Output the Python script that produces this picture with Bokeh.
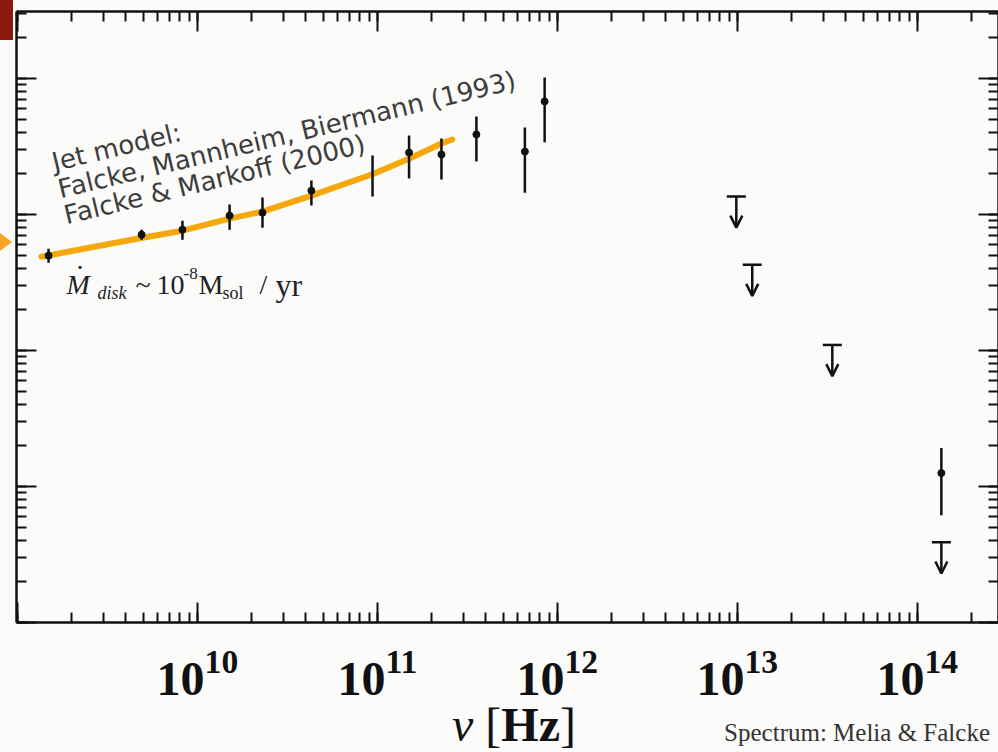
from bokeh.plotting import figure
from bokeh.layouts import column
from bokeh.models import (ColumnDataSource, LogAxis, LogTicker, Label, Arrow, OpenHead, Range1d, Div)
from bokeh.embed import file_html
from bokeh.resources import INLINE

# ---------------- data ----------------
# detections: frequency [Hz], flux, error-bar top, error-bar bottom
nu_det = [1.49e9, 4.9e9, 8.26e9, 1.51e10, 2.30e10, 4.30e10, 9.4e10, 1.5e11, 2.27e11,
          3.55e11, 6.6e11, 8.5e11, 1.36e14]
f_det = [0.499, 0.712, 0.775, 0.983, 1.034, 1.50, 1.97, 2.86, 2.77, 3.89, 2.91, 6.80, 0.01256]
f_hi = [0.561, 0.775, 0.903, 1.185, 1.334, 1.78, 2.72, 3.82, 3.63, 5.27, 4.38, 10.2, 0.0192]
f_lo = [0.443, 0.654, 0.654, 0.775, 0.802, 1.165, 1.36, 1.84, 1.81, 2.46, 1.45, 3.40, 0.00615]
show_dot = [1, 1, 1, 1, 1, 1, 0, 1, 1, 1, 1, 1, 1]

# upper limits
nu_ul = [9.87e12, 1.21e13, 3.37e13, 1.36e14]
f_ul = [1.36, 0.428, 0.110, 0.00389]

# jet model curve
nu_model = [1.36e9, 4.95e9, 8.26e9, 1.51e10, 2.30e10, 4.30e10, 9.38e10, 1.51e11, 2.27e11, 2.61e11]
f_model = [0.490, 0.676, 0.762, 0.935, 1.052, 1.38, 1.98, 2.59, 3.34, 3.57]

x_lo, x_hi = 10 ** 8.995, 10 ** 14.451
y_lo, y_hi = 1e-3, 10 ** 1.494

BG = "#fbfbf9"
INK = "#111111"
TOP_H = 706

# ---------------- main plot ----------------
p = figure(width=998, height=TOP_H, x_axis_type="log", y_axis_type="log",
           x_range=Range1d(x_lo, x_hi), y_range=Range1d(y_lo, y_hi),
           output_backend="svg", toolbar_location=None,
           min_border_left=16, min_border_right=0, min_border_top=11, min_border_bottom=TOP_H - 622)
p.background_fill_color = BG
p.border_fill_color = BG
p.outline_line_color = None
p.grid.visible = False


def style_axis(ax, labels):
    ax.ticker = LogTicker(num_minor_ticks=10)
    ax.axis_line_width = 2.5
    ax.axis_line_color = INK
    ax.major_tick_line_width = 2
    ax.minor_tick_line_width = 2
    ax.major_tick_line_color = INK
    ax.minor_tick_line_color = INK
    ax.major_tick_in = 20
    ax.major_tick_out = 0
    ax.minor_tick_in = 10
    ax.minor_tick_out = 0
    if not labels:
        ax.major_label_text_font_size = "1px"
        ax.major_label_text_alpha = 0
        ax.major_label_standoff = 0


style_axis(p.xaxis[0], True)
style_axis(p.yaxis[0], False)
p.xaxis.major_label_text_font = "Liberation Serif"
p.xaxis.major_label_text_font_style = "bold"
p.xaxis.major_label_text_font_size = "48px"
p.xaxis.major_label_text_color = INK
p.xaxis.major_label_standoff = 28
p.xaxis.major_label_overrides = {1000000000: ""}

top_ax = LogAxis()
right_ax = LogAxis()
style_axis(top_ax, False)
style_axis(right_ax, False)
p.add_layout(top_ax, "above")
p.add_layout(right_ax, "right")

# jet model
p.line(nu_model, f_model, line_color="#f6a80b", line_width=6, line_cap="round")

# detections
det = ColumnDataSource(dict(x=nu_det, y=f_det, hi=f_hi, lo=f_lo))
p.segment(x0="x", y0="lo", x1="x", y1="hi", source=det, line_color=INK, line_width=2.5)
dots = ColumnDataSource(dict(x=[v for v, s in zip(nu_det, show_dot) if s],
                             y=[v for v, s in zip(f_det, show_dot) if s]))
p.scatter("x", "y", source=dots, size=7, color=INK)

# upper limits
ul = ColumnDataSource(dict(x=nu_ul, y=f_ul, yend=[v * 0.59 for v in f_ul]))
p.scatter("x", "y", source=ul, marker="dash", size=19, line_color=INK, line_width=2.5)
p.add_layout(Arrow(source=ul, x_start="x", y_start="y", x_end="x", y_end="yend",
                   line_color=INK, line_width=2.5,
                   end=OpenHead(size=12, line_color=INK, line_width=2.5)))

# frame origin on the page (for text placement inside the plot)
FX0, FY0 = 16, 622


def lab(text, cx, cy, size, style="normal", color="#222222", align="left",
        font="Liberation Serif", angle=0.0):
    p.add_layout(Label(x=cx - FX0, y=FY0 - cy, x_units="screen", y_units="screen", text=text,
                       text_font=font, text_font_size=size, text_font_style=style,
                       text_color=color, text_baseline="alphabetic", text_align=align,
                       angle=angle, angle_units="deg"))


jet_lines = ["Jet model:", "Falcke, Mannheim, Biermann (1993)", "Falcke & Markoff (2000)"]
jet_pos = [(52, 162), (58, 189), (64, 215)]
for t, (cx, cy) in zip(jet_lines, jet_pos):
    lab(t, cx, cy, "26px", color="#3d3d3d", font="DejaVu Sans", angle=13.5)

# accretion-rate annotation
MY = 284
lab("M", 66, MY, "28px", "italic")
lab(".", 76, MY - 25, "28px")
lab("disk", 97, MY + 8, "18px", "italic")
lab("~", 135, MY, "28px")
lab("10", 156, MY, "28px")
lab("-8", 183, MY - 11, "17px")
lab("M", 198, MY, "28px")
lab("sol", 222, MY + 8, "18px")
lab("/", 259, MY, "28px")
lab("yr", 275, MY, "32px")

# ---------------- bottom strip: axis title, credit and slide decorations ----------------
bottom_html = (
    '<div style="position:relative;width:998px;height:46px;font-family:\'Liberation Serif\';'
    'color:#111111;background:%s;">'
    '<div style="position:absolute;left:0px;top:-706px;width:13px;height:40px;background:#8c1a0c;"></div>'
    '<div style="position:absolute;left:0px;top:-473px;width:0;height:0;'
    'border-top:9px solid transparent;border-bottom:9px solid transparent;'
    'border-left:12px solid #f6a623;"></div>'
    '<span style="position:absolute;left:452px;top:-5px;font-size:48px;line-height:48px;'
    'white-space:nowrap;"><i>\u03bd</i> [<b>Hz</b>]</span>'
    '<span style="position:absolute;right:8px;top:14px;font-size:25px;line-height:25px;'
    'color:#333333;white-space:nowrap;">Spectrum: Melia &amp; Falcke</span>'
    '</div>' % BG
)
bot = Div(text=bottom_html, width=998, height=752 - TOP_H, margin=(0, 0, 0, 0),
          styles={"overflow": "visible", "background-color": BG})

layout = column(p, bot, spacing=0)
layout.styles = {"background-color": BG}

open("out.html", "w").write(file_html(layout, INLINE))
